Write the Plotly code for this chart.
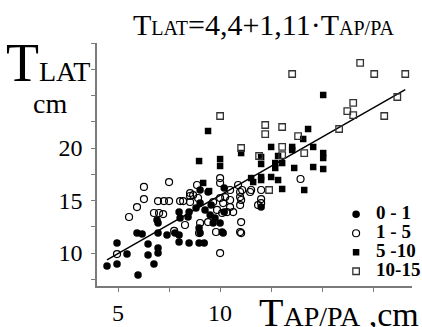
import numpy as np
import plotly.graph_objects as go

# 0-1 group (filled circles)
x_0_1 = [4.46, 4.95, 4.95, 5.44, 5.98, 5.93, 6.18, 6.47, 6.47, 6.76, 6.96, 6.96, 6.91, 6.96, 6.96,
         7.40, 7.79, 7.99, 7.99, 7.99, 8.43, 8.48, 8.97, 9.22, 8.97, 9.02, 8.48, 8.04, 9.26, 9.02,
         9.51, 9.66, 10.00, 10.10, 10.20, 12.01, 9.02, 9.41, 8.82, 9.56, 9.75, 10.20, 10.15]
y_0_1 = [8.76, 8.95, 10.95, 9.90, 7.90, 11.90, 11.81, 10.86, 9.81, 8.95, 10.48, 10.00, 13.14, 12.86, 11.90,
         11.71, 11.90, 11.71, 11.05, 13.90, 13.43, 10.95, 10.95, 10.95, 12.38, 11.90, 13.90, 13.33, 14.10, 14.76,
         13.62, 12.86, 12.86, 12.00, 16.19, 14.38, 16.00, 15.81, 14.29, 14.57, 13.33, 13.90, 11.90]

# 1-5 group (open circles)
x_1_5 = [4.95, 5.54, 5.93, 6.27, 6.27, 6.76, 7.01, 7.21, 6.96, 7.50, 7.50, 8.04, 8.19, 8.53, 8.92,
         8.87, 7.75, 8.28, 8.97, 9.41, 9.02, 11.03, 11.03, 10.00, 10.98, 9.80, 10.34, 10.64, 10.49, 10.98,
         10.98, 10.98, 11.47, 11.86, 8.68, 8.53, 10.15, 9.85, 10.10, 9.66, 10.00, 10.25, 10.49, 10.00, 10.00,
         10.88, 10.49, 11.08, 11.52, 12.01, 11.03, 12.01, 12.01, 13.94, 8.53, 7.25]
y_1_5 = [9.90, 13.43, 14.38, 16.29, 15.14, 13.81, 13.81, 13.71, 14.95, 16.76, 14.95, 14.95, 14.95, 15.43, 15.24,
         16.48, 12.10, 12.67, 11.90, 12.95, 12.86, 12.95, 11.90, 10.00, 12.00, 12.00, 13.90, 13.90, 14.38, 14.57,
         15.33, 15.81, 15.81, 14.57, 15.52, 14.86, 14.76, 14.10, 13.81, 14.86, 15.24, 15.33, 15.05, 17.14, 16.67,
         16.48, 16.00, 16.00, 16.00, 16.00, 15.05, 15.14, 14.76, 17.05, 15.71, 14.95]

# 5-10 group (filled squares)
x_5_10 = [8.97, 9.41, 9.17, 10.00, 10.00, 11.03, 12.01, 12.84, 12.01, 12.70, 12.70, 13.04, 13.63, 14.56, 15.05,
          11.52, 11.62, 12.01, 12.01, 12.50, 12.84, 13.04, 14.12, 12.50, 13.53, 13.53, 14.56, 15.05, 15.05, 14.31,
          14.07, 15.05, 9.46]
y_5_10 = [18.76, 21.62, 16.67, 18.95, 18.29, 19.52, 19.14, 19.24, 18.48, 18.57, 18.10, 18.57, 18.10, 18.19, 18.00,
          17.14, 16.76, 17.24, 16.95, 17.24, 16.95, 16.10, 16.00, 20.10, 20.10, 19.81, 20.10, 19.52, 19.05, 21.81,
          20.86, 25.05, 15.90]

# 10-15 group (open squares)
x_10_15 = [16.86, 17.55, 19.07, 18.68, 16.52, 16.23, 16.52, 18.04, 15.83, 13.53, 10.00, 12.21, 12.21, 13.04, 13.82,
           13.04, 11.03, 14.12, 11.91, 13.04, 12.40]
y_10_15 = [28.10, 27.05, 27.05, 24.86, 24.29, 23.52, 23.14, 23.05, 21.81, 27.05, 23.05, 22.19, 21.33, 22.00, 21.14,
           20.10, 20.00, 19.52, 19.24, 19.33, 16.00]

group_names = ["0 - 1", "1 - 5", "5 -10", "10-15"]

# regression T_LAT = 4.4 + 1.11 * T_AP/PA
intercept, slope = 4.4, 1.11
fit_x = [4.46, 19.07]

x_tickvals = [5, 7.5, 10, 12.5, 15, 17.5]
x_ticktext = ["5", "", "10", "", "", ""]
y_tickvals = [7.5, 10, 12.5, 15, 17.5, 20, 22.5, 25, 27.5, 30]
y_ticktext = ["", "10", "", "15", "", "20", "", "", "", ""]

SERIF = "Liberation Serif"


def lg(name):
    return '<span style="font-size:19px">' + name + '</span>'


fig = go.Figure()
fx = np.array(fit_x)
fig.add_trace(go.Scatter(x=fx, y=intercept + slope * fx, mode="lines",
                         line=dict(color="black", width=1.5), showlegend=False, hoverinfo="skip"))
fig.add_trace(go.Scatter(x=x_0_1, y=y_0_1, mode="markers", name=lg(group_names[0]),
                         marker=dict(symbol="circle", size=7.5, color="black")))
fig.add_trace(go.Scatter(x=x_1_5, y=y_1_5, mode="markers", name=lg(group_names[1]),
                         marker=dict(symbol="circle-open", size=7, color="black", line=dict(width=1.2))))
fig.add_trace(go.Scatter(x=x_5_10, y=y_5_10, mode="markers", name=lg(group_names[2]),
                         marker=dict(symbol="square", size=6.5, color="black")))
fig.add_trace(go.Scatter(x=x_10_15, y=y_10_15, mode="markers", name=lg(group_names[3]),
                         marker=dict(symbol="square-open", size=6.5, color="#333333", line=dict(width=1.3))))

axis_common = dict(showgrid=False, zeroline=False, showline=True, linecolor="#7a7a7a", linewidth=1.5,
                   ticks="outside", ticklen=4, tickwidth=1.2, tickcolor="#7a7a7a",
                   tickfont=dict(family=SERIF, size=24, color="black"))

fig.update_xaxes(range=[3.97, 19.4], tickvals=x_tickvals, ticktext=x_ticktext, **axis_common)
fig.update_yaxes(range=[6.86, 30.0], tickvals=y_tickvals, ticktext=y_ticktext,
                 ticklabelstandoff=4, **axis_common)

fig.update_layout(
    width=422, height=327,
    margin=dict(l=97, r=10, t=43, b=41, autoexpand=False),
    paper_bgcolor="white", plot_bgcolor="white",
    showlegend=True,
    legend=dict(x=0.759, y=0.355, xanchor="left", yanchor="top", bgcolor="rgba(0,0,0,0)",
                font=dict(family=SERIF, size=12, color="black", weight="bold"),
                itemwidth=30, tracegroupgap=0),
    annotations=[
        dict(text='T<span style="font-size:20px">LAT</span>=4,4+1,11·T<span style="font-size:20px">AP/PA</span>',
             x=0.53, y=1.0, xref="paper", yref="paper", yanchor="bottom", xanchor="center", yshift=0,
             showarrow=False, font=dict(family=SERIF, size=30, color="black")),
        dict(text='T<span style="font-size:28px">LAT</span>',
             x=-0.295, y=1.05, xref="paper", yref="paper", xanchor="left", yanchor="top",
             showarrow=False, font=dict(family=SERIF, size=54, color="black")),
        dict(text='cm', x=-0.15, y=0.75, xref="paper", yref="paper", xanchor="center", yanchor="middle",
             showarrow=False, font=dict(family=SERIF, size=28, color="black")),
        dict(text='T<span style="font-size:28px">AP/PA</span><span style="font-size:34px"> ,cm</span>',
             x=1.03, y=-0.007, xref="paper", yref="paper", xanchor="right", yanchor="top",
             showarrow=False, font=dict(family=SERIF, size=40, color="black")),
    ],
)

fig.write_html("out.html", config={"displayModeBar": False},
               post_script="document.body.style.margin='0px';")
